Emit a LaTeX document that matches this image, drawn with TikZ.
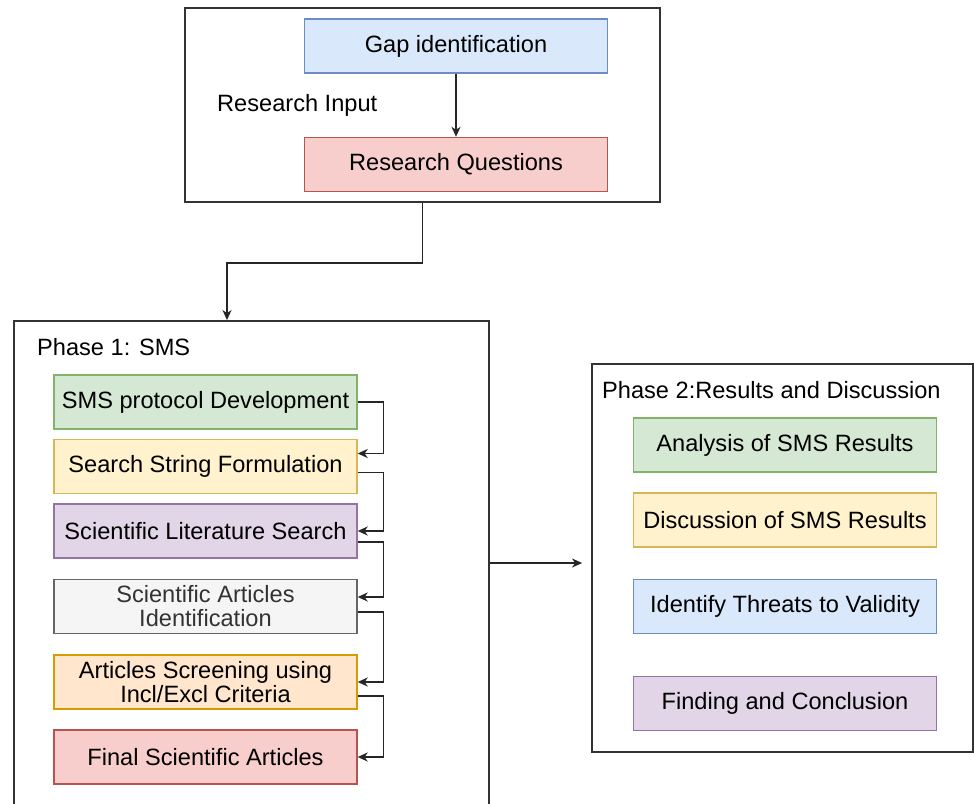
\documentclass[tikz,border=0pt]{standalone}
\usepackage{fontspec}
\setmainfont{Liberation Sans}
\usetikzlibrary{arrows.meta}

\definecolor{bluefill}{HTML}{DAE8FC}\definecolor{blueline}{HTML}{6C8EBF}
\definecolor{redfill}{HTML}{F8CECC}\definecolor{redline}{HTML}{B85450}
\definecolor{greenfill}{HTML}{D5E8D4}\definecolor{greenline}{HTML}{82B366}
\definecolor{yellowfill}{HTML}{FFF2CC}\definecolor{yellowline}{HTML}{D6B656}
\definecolor{purplefill}{HTML}{E1D5E7}\definecolor{purpleline}{HTML}{9673A6}
\definecolor{greyfill}{HTML}{F5F5F5}\definecolor{greyline}{HTML}{666666}
\definecolor{orangefill}{HTML}{FFE6CC}\definecolor{orangeline}{HTML}{D79B00}

\tikzset{
    stage/.style={draw, line width=1.4pt, minimum width=303pt, minimum height=54pt,
        inner sep=0pt, align=center, font=\fontsize{23.6}{24}\selectfont},
    bluebox/.style={stage, fill=bluefill, draw=blueline},
    redbox/.style={stage, fill=redfill, draw=redline},
    greenbox/.style={stage, fill=greenfill, draw=greenline},
    yellowbox/.style={stage, fill=yellowfill, draw=yellowline},
    purplebox/.style={stage, fill=purplefill, draw=purpleline},
    greybox/.style={stage, fill=greyfill, draw=greyline, text=black!80},
    orangebox/.style={stage, fill=orangefill, draw=orangeline},
    frame/.style={draw=black!80, line width=1.8pt, inner sep=0pt},
    caption/.style={anchor=west, inner sep=0pt, font=\fontsize{23.6}{24}\selectfont},
    link/.style={draw=black!85, line width=1.5pt, -{Stealth[length=10pt,width=9pt,inset=3pt]}}
}

\begin{document}
\begin{tikzpicture}[x=1pt,y=-1pt]
        \useasboundingbox (0,0) rectangle (974,803);
        % research input
        \node[frame, minimum width=475pt, minimum height=194pt] (input) at (422.5,105) {};
        \node[caption] (inputlabel) at (217,105) {Research Input};
        \node[bluebox] (gap) at (456,46) {Gap identification};
        \node[redbox] (questions) at (456,164.5) {Research Questions};
        \draw[link] (gap) -- (questions);

        % phase 1
        \node[frame, minimum width=475pt, minimum height=520pt] (phaseone) at (251.5,581) {};
        \node[caption] (phaseonelabel) at (37,347) {Phase 1: SMS};
        \node[greenbox] (protocol) at (205.5,402) {SMS protocol Development};
        \node[yellowbox] (string) at (205.5,466.5) {Search String Formulation};
        \node[purplebox] (search) at (205.5,531) {Scientific Literature Search};
        \node[greybox] (ident) at (205.5,606.5) {Scientific Articles\\Identification};
        \node[orangebox] (screening) at (205.5,682) {Articles Screening using\\Incl/Excl Criteria};
        \node[redbox] (final) at (205.5,757) {Final Scientific Articles};

        \draw[link] (input.south) -- ++(0,60) -| (phaseone.north -| 227,0);
        \draw[link] (protocol.east) -- ++(26,0) |- ([yshift=13pt]string.east);
        \draw[link] ([yshift=-6pt]string.east) -- ++(26,0) |- (search.east);
        \draw[link] ([yshift=-11pt]search.east) -- ++(26,0) |- ([yshift=9.5pt]ident.east);
        \draw[link] ([yshift=-5.5pt]ident.east) -- ++(26,0) |- (screening.east);
        \draw[link] ([yshift=-14pt]screening.east) -- ++(26,0) |- (final.east);

        % phase 2
        \node[frame, minimum width=381pt, minimum height=388pt] (phasetwo) at (782.5,558) {};
        \node[caption] (phasetwolabel) at (602,390) {Phase 2:Results and Discussion};
        \node[greenbox] (analysis) at (785,445) {Analysis of SMS Results};
        \node[yellowbox] (discussion) at (785,520) {Discussion of SMS Results};
        \node[bluebox] (threats) at (785,606.5) {Identify Threats to Validity};
        \node[purplebox] (finding) at (785,703.5) {Finding and Conclusion};

        \draw[link] ([yshift=18pt]phaseone.east) -- ([xshift=-9pt,yshift=-5pt]phasetwo.west);
    \end{tikzpicture}
\end{document}
